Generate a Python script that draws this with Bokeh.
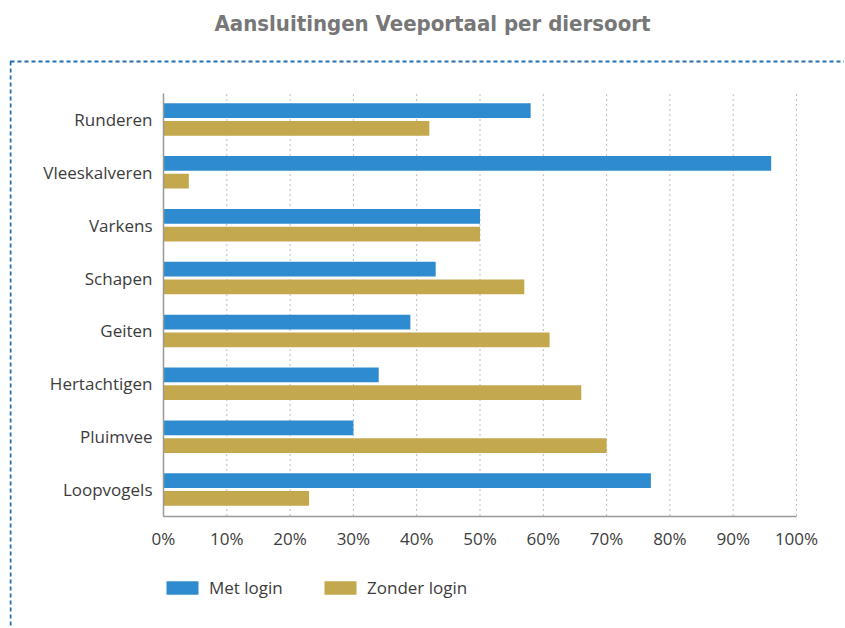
from bokeh.plotting import figure
from bokeh.models import (Range1d, FixedTicker, PrintfTickFormatter, LinearAxis,
                          BoxAnnotation, Legend, LegendItem, ColumnDataSource, Label)
from bokeh.transform import dodge
from bokeh.embed import file_html
from bokeh.resources import INLINE

title = "Aansluitingen Veeportaal per diersoort"
categories = ["Runderen", "Vleeskalveren", "Varkens", "Schapen", "Geiten",
              "Hertachtigen", "Pluimvee", "Loopvogels"]
met_login = [58, 96, 50, 43, 39, 34, 30, 77]
zonder_login = [42, 4, 50, 57, 61, 66, 70, 23]
series_names = ["Met login", "Zonder login"]
x_ticks = [0, 10, 20, 30, 40, 50, 60, 70, 80, 90, 100]

BLUE = "#2F8BCF"
GOLD = "#C3A84E"
FONT = "Open Sans"
TXT = "#3c3c3c"

n = len(categories)
pos = [n - 1 - i for i in range(n)]          # Runderen on top
src = ColumnDataSource(dict(pos=pos, cat=categories, met=met_login, zonder=zonder_login))

# ---- layout (pixels in the window) ----
W, H = 844, 626
FL, FT = 9, 0                     # frame left / top
BORDER_Y = 61                     # y of the dashed top border
X0, X100 = 163, 796               # pixel of 0% and 100%
Y_TOP, Y_BOT = 92.5, 515.5        # top of first category band, bottom of last
fw, fh = W - FL, H - FT
pxx = (X100 - X0) / 100.0
pxy = (Y_BOT - Y_TOP) / n
x_start = -(X0 - FL) / pxx
x_end = x_start + fw / pxx
y_end = (n - 0.5) + (Y_TOP - FT) / pxy
y_start = -0.5 - (H - Y_BOT) / pxy

p = figure(width=W, height=H, output_backend="svg", toolbar_location=None,
           x_range=Range1d(x_start, x_end), y_range=Range1d(y_start, y_end),
           x_axis_location=None, y_axis_location=None)
p.min_border_left = FL
p.min_border_top = FT
p.min_border_right = 0
p.min_border_bottom = 0
p.outline_line_color = None
p.background_fill_color = "white"
p.border_fill_color = "white"
p.xgrid.visible = False
p.ygrid.visible = False

# title
p.add_layout(Label(x=432 - FL, y=H - 23, x_units="screen", y_units="screen",
                   text=title, text_align="center", text_baseline="middle",
                   text_font="DejaVu Sans Condensed", text_font_style="bold",
                   text_font_size="22px", text_color="#777777"))

# dotted vertical grid lines between the first and last category band
p.segment(x0=x_ticks[1:], x1=x_ticks[1:], y0=-0.5, y1=n - 0.5,
          line_color="#bdbdbd", line_dash="2 3", line_width=1)

H_BAR = 0.278
OFF = 0.168
r1 = p.hbar(y=dodge("pos", OFF), right="met", left=0, height=H_BAR, source=src,
            fill_color=BLUE, line_color=None)
r2 = p.hbar(y=dodge("pos", -OFF), right="zonder", left=0, height=H_BAR, source=src,
            fill_color=GOLD, line_color=None)

# axes drawn at fixed positions inside the frame
xaxis = LinearAxis(fixed_location=-0.5, bounds=(0, 100),
                   ticker=FixedTicker(ticks=x_ticks),
                   formatter=PrintfTickFormatter(format="%d%%"))
yaxis = LinearAxis(fixed_location=0, bounds=(-0.5, n - 0.5),
                   ticker=FixedTicker(ticks=pos),
                   major_label_overrides={pv: c for pv, c in zip(pos, categories)})
for ax in (xaxis, yaxis):
    ax.axis_line_color = "#999999"
    ax.axis_line_width = 1.5
    ax.major_tick_line_color = None
    ax.minor_tick_line_color = None
    ax.major_tick_out = 0
    ax.major_tick_in = 0
    ax.minor_tick_out = 0
    ax.major_label_text_font = FONT
    ax.major_label_text_font_size = "17px"
    ax.major_label_text_color = TXT
xaxis.major_label_standoff = 11
yaxis.major_label_standoff = 11
p.add_layout(xaxis, "below")
p.add_layout(yaxis, "left")

# dashed border (top and left edges of the chart box)
p.add_layout(BoxAnnotation(left=1, right=fw + 50, top=H - BORDER_Y, bottom=-100,
                           left_units="screen", right_units="screen",
                           top_units="screen", bottom_units="screen",
                           fill_alpha=0, line_color="#1f6fb2", line_alpha=1,
                           line_width=2, line_dash="4 3"))

# legends
for r, name, lx in ((r1, series_names[0], 162), (r2, series_names[1], 320)):
    lg = Legend(items=[LegendItem(label=name, renderers=[r])],
                location=(lx - FL, H - 598.5), orientation="horizontal",
                glyph_width=40, glyph_height=17, label_height=17,
                label_standoff=7, padding=0, margin=0,
                border_line_color=None, background_fill_alpha=0,
                label_text_font=FONT, label_text_font_size="17px",
                label_text_color=TXT)
    p.add_layout(lg)

open("out.html", "w").write(file_html(p, INLINE))
